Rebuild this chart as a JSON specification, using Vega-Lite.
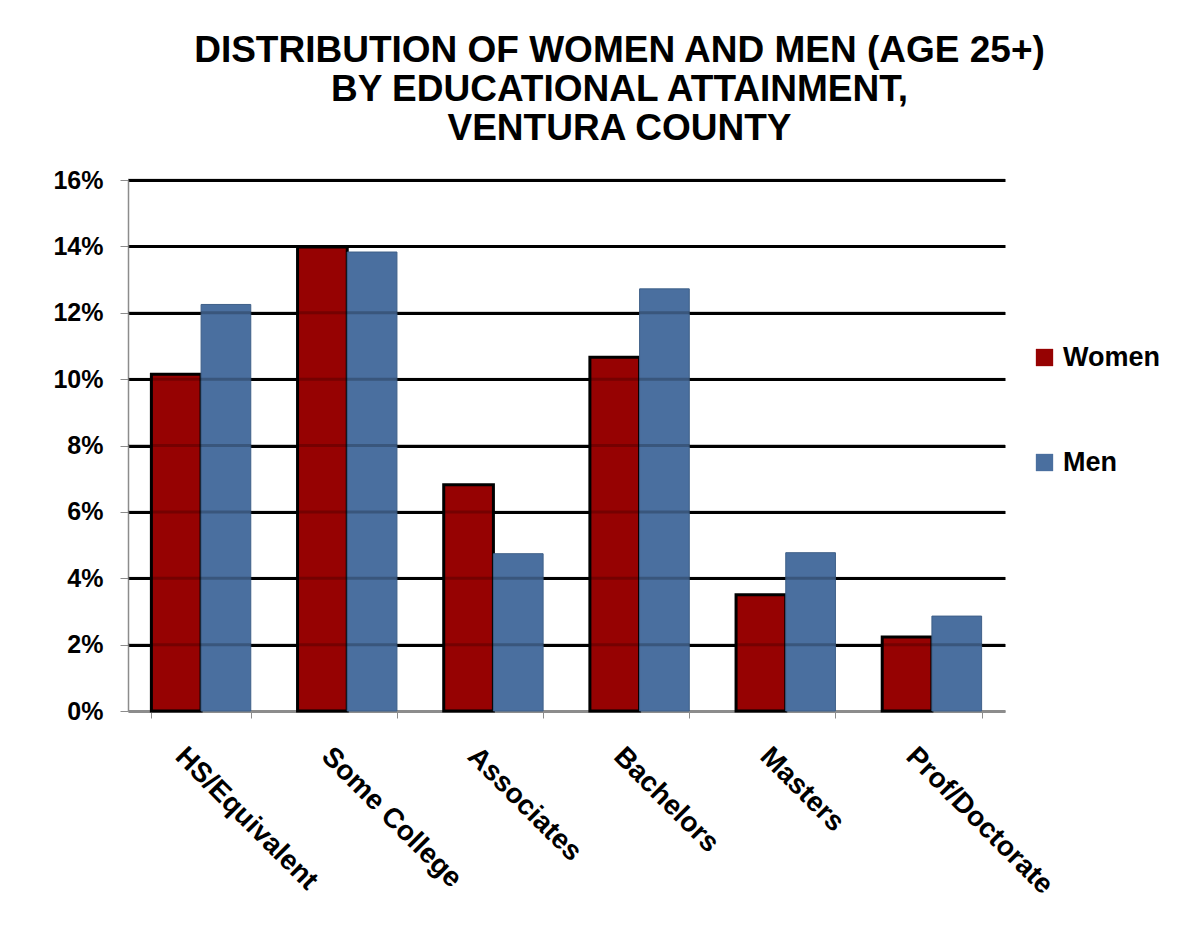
{
  "$schema": "https://vega.github.io/schema/vega-lite/v6.json",
  "width": 877,
  "height": 531,
  "autosize": {"type": "none"},
  "padding": {"left": 128, "top": 180, "right": 175, "bottom": 241},
  "background": "white",
  "title": {
    "text": ["DISTRIBUTION OF WOMEN AND MEN (AGE 25+)", "BY EDUCATIONAL ATTAINMENT,", "VENTURA COUNTY"],
    "font": "Liberation Sans",
    "fontSize": 37,
    "fontWeight": "bold",
    "color": "black",
    "anchor": "middle",
    "dx": 53,
    "lineHeight": 39,
    "offset": 20
  },
  "datasets": {
    "bars": [
      {"level": "HS/Equivalent", "sex": "Women", "share": 0.1015},
      {"level": "Some College", "sex": "Women", "share": 0.1398},
      {"level": "Associates", "sex": "Women", "share": 0.0682},
      {"level": "Bachelors", "sex": "Women", "share": 0.1066},
      {"level": "Masters", "sex": "Women", "share": 0.035},
      {"level": "Prof/Doctorate", "sex": "Women", "share": 0.0223},
      {"level": "HS/Equivalent", "sex": "Men", "share": 0.1225},
      {"level": "Some College", "sex": "Men", "share": 0.1383},
      {"level": "Associates", "sex": "Men", "share": 0.0474},
      {"level": "Bachelors", "sex": "Men", "share": 0.1272},
      {"level": "Masters", "sex": "Men", "share": 0.0477},
      {"level": "Prof/Doctorate", "sex": "Men", "share": 0.0286}
    ],
    "grid": [
      {"share": 0.02}, {"share": 0.04}, {"share": 0.06}, {"share": 0.08},
      {"share": 0.10}, {"share": 0.12}, {"share": 0.14}, {"share": 0.16}
    ]
  },
  "layer": [
    {
      "data": {"name": "bars"},
      "mark": {"type": "bar"},
      "encoding": {
        "x": {
          "field": "level",
          "type": "nominal",
          "sort": ["HS/Equivalent", "Some College", "Associates", "Bachelors", "Masters", "Prof/Doctorate"],
          "scale": {"paddingInner": 0.32, "paddingOuter": 0.16},
          "axis": {
            "title": null,
            "labelAngle": 45,
            "labelAlign": "left",
            "labelBaseline": "top",
            "labelFont": "Liberation Sans",
            "labelFontSize": 28,
            "labelFontWeight": "bold",
            "labelColor": "black",
            "labelPadding": 24,
            "labelOffset": -12,
            "labelLimit": 400,
            "tickBand": "extent",
            "tickColor": "#8c8c8c",
            "tickSize": 7,
            "domainColor": "#8c8c8c",
            "domainWidth": 1.5
          }
        },
        "xOffset": {
          "field": "sex",
          "type": "nominal",
          "sort": ["Women", "Men"],
          "scale": {"paddingInner": 0, "paddingOuter": 0}
        },
        "y": {
          "field": "share",
          "type": "quantitative",
          "scale": {"domain": [0, 0.16], "nice": false},
          "axis": {
            "title": null,
            "values": [0, 0.02, 0.04, 0.06, 0.08, 0.1, 0.12, 0.14, 0.16],
            "format": ".0%",
            "labelFont": "Liberation Sans",
            "labelFontSize": 25,
            "labelFontWeight": "bold",
            "labelColor": "black",
            "labelPadding": 17,
            "tickSize": 8,
            "tickColor": "#8c8c8c",
            "domainColor": "#8c8c8c",
            "domainWidth": 1.5,
            "grid": true,
            "gridColor": {"condition": {"test": "datum.value === 0", "value": "#8c8c8c"}, "value": "black"},
            "gridWidth": 3
          }
        },
        "color": {
          "field": "sex",
          "type": "nominal",
          "scale": {"domain": ["Women", "Men"], "range": ["#960202", "#4a6f9f"]},
          "legend": {
            "title": null,
            "orient": "none",
            "legendX": 903,
            "legendY": 164,
            "direction": "vertical",
            "symbolType": "square",
            "symbolSize": 300,
            "symbolStrokeWidth": 0,
            "labelFont": "Liberation Sans",
            "labelFontSize": 27,
            "labelFontWeight": "bold",
            "labelColor": "black",
            "labelOffset": 5,
            "rowPadding": 77,
            "encode": {
              "symbols": {
                "update": {
                  "stroke": {"signal": "datum.value === 'Women' ? 'black' : '#4a6f9f'"},
                  "strokeWidth": {"signal": "datum.value === 'Women' ? 3 : 0"},
                  "size": {"signal": "datum.value === 'Women' ? 300 : 200"}
                }
              }
            }
          }
        },
        "stroke": {
          "condition": {"test": "datum.sex === 'Women'", "value": "black"},
          "value": "#3f6088"
        },
        "strokeWidth": {
          "condition": {"test": "datum.sex === 'Women'", "value": 3},
          "value": 1
        }
      }
    },
    {
      "data": {"name": "grid"},
      "mark": {"type": "rule", "color": "black", "strokeWidth": 3, "opacity": 0.22},
      "encoding": {
        "y": {"field": "share", "type": "quantitative"}
      }
    }
  ],
  "config": {"view": {"stroke": null}}
}
